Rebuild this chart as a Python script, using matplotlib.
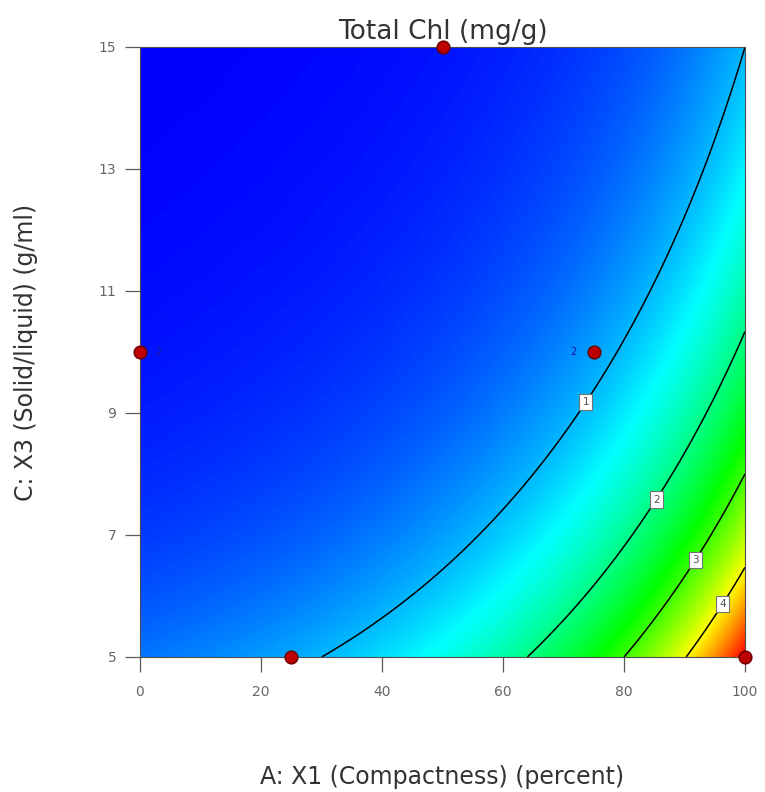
import numpy as np
import matplotlib
matplotlib.use("Agg")
import matplotlib.pyplot as plt
from matplotlib.colors import LinearSegmentedColormap

# ---- data ----
# fitted response-surface coefficients (coded units, ln(Total Chl))
terms = ["Intercept", "A", "C", "AC", "A^2", "C^2"]
coefs = [-0.877, 1.376, -1.166, 0.327, 0.250, 0.090]
x_range = [0, 100]          # A: X1 (Compactness) (percent)
y_range = [5, 15]           # C: X3 (Solid/liquid) (g/ml)
levels = [1, 2, 3, 4]
label_pos = [(73.7, 9.18), (84.1, 7.66), (90.6, 6.67), (95.4, 5.92)]
design_x = [0, 75, 50, 25, 100]
design_y = [10, 10, 15, 5, 5]
design_reps = ["2", "2", "", "", ""]
xticks = [0, 20, 40, 60, 80, 100]
yticks = [5, 7, 9, 11, 13, 15]

plt.rcParams['font.family'] = ['DejaVu Sans']

fig = plt.figure(figsize=(7.65, 7.92), dpi=100)
ax = fig.add_axes([140/765, 1-657/792, 605/765, 610/792])

xs = np.linspace(x_range[0], x_range[1], 401)
ys = np.linspace(y_range[0], y_range[1], 401)
X, Y = np.meshgrid(xs, ys)
A = (X - 50) / 50
C = (Y - 10) / 5
b0, b1, b3, b13, b11, b33 = coefs
G = b0 + b1*A + b3*C + b13*A*C + b11*A**2 + b33*C**2
Z = np.exp(G)

cmap = LinearSegmentedColormap.from_list(
    "de", [(0, 0, 1), (0, 1, 1), (0, 1, 0), (1, 1, 0), (1, 0, 0)])
ax.imshow(Z, extent=[x_range[0], x_range[1], y_range[0], y_range[1]],
          origin='lower', aspect='auto', cmap=cmap, interpolation='bilinear')

cs = ax.contour(X, Y, Z, levels=levels, colors='k', linewidths=1.1)
texts = ax.clabel(cs, levels, manual=label_pos, inline=True, fmt='%d', fontsize=7.5)
for t in texts:
    t.set_rotation(0)
    t.set_color('0.3')
    t.set_bbox(dict(boxstyle='square,pad=0.3', fc='white', ec='0.45', lw=0.8))

ax.plot(design_x, design_y, 'o', ms=9, mfc=(0.75, 0.0, 0.0), mec=(0.45, 0.0, 0.0),
        mew=1.2, clip_on=False, zorder=10)
for px, py, r in zip(design_x, design_y, design_reps):
    if r:
        dx = 2.5 if px < 50 else -2.8
        ax.text(px + dx, py, r, color=(0.1, 0.1, 0.6), fontsize=7,
                ha='left' if dx > 0 else 'right', va='center', zorder=11)

ax.set_xlim(x_range)
ax.set_ylim(y_range)
ax.set_xticks(xticks)
ax.set_yticks(yticks)
ax.tick_params(direction='out', length=11, width=0.9, color='0.35',
               labelsize=10, labelcolor='0.4')
ax.tick_params(axis='x', pad=9)
ax.tick_params(axis='y', pad=6)
for s in ax.spines.values():
    s.set_color('0.3')
    s.set_linewidth(0.8)

ax.set_title("Total Chl (mg/g)", fontsize=19, color='0.2', pad=6)
ax.set_xlabel("A: X1 (Compactness) (percent)", fontsize=17, color='0.2', labelpad=48)
ax.set_ylabel("C: X3 (Solid/liquid) (g/ml)", fontsize=17, color='0.2', labelpad=44)

fig.savefig("out.png", dpi=100)
